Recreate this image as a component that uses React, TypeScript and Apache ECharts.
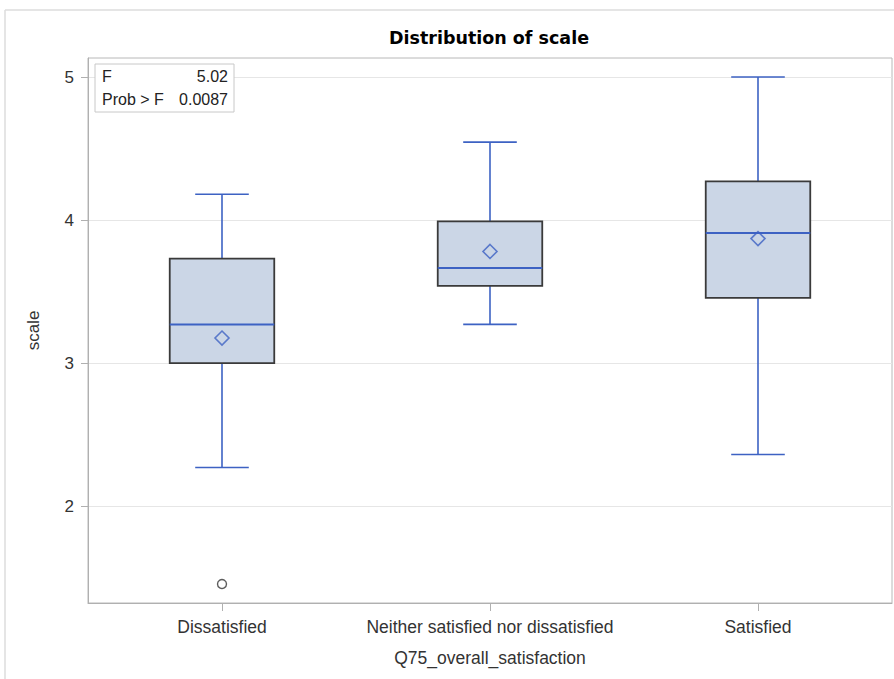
import React, { useEffect, useRef } from "react";
import * as echarts from "echarts";

const categories = ["Dissatisfied", "Neither satisfied nor dissatisfied", "Satisfied"];
// [whiskerLow, Q1, median, Q3, whiskerHigh]
const boxValues = [
  [2.27, 3.0, 3.27, 3.73, 4.18],
  [3.27, 3.54, 3.665, 3.99, 4.545],
  [2.36, 3.455, 3.91, 4.27, 5.0],
];
const meanValues = [3.175, 3.78, 3.87];
const outliers = [[0, 1.455]];
const yTicks = [2, 3, 4, 5];
const fStat = "5.02";
const probF = "0.0087";

const BLUE = "#3d62c3";
const FILL = "#cbd6e6";
const FONT = "'Liberation Sans', Arial, sans-serif";

export default function App() {
  const ref = useRef<HTMLDivElement>(null);
  useEffect(() => {
    const chart = echarts.init(ref.current!, null, { renderer: "svg" });
    const option: any = {
      animation: false,
      backgroundColor: "#fff",
      title: {
        text: "Distribution of scale",
        left: 484,
        top: 24,
        textAlign: "center",
        textStyle: { fontFamily: "'DejaVu Sans', sans-serif", fontWeight: "bold", fontSize: 17.5, color: "#000" },
      },
      grid: {
        left: 88, right: 2, top: 58, bottom: 76,
        show: true, borderColor: "#b8b8b8", borderWidth: 1, backgroundColor: "transparent",
      },
      xAxis: {
        type: "category",
        data: categories,
        boundaryGap: true,
        name: "Q75_overall_satisfaction",
        nameLocation: "middle",
        nameGap: 46,
        nameTextStyle: { fontFamily: FONT, fontSize: 17.5, color: "#333" },
        axisLine: { show: true, lineStyle: { color: "#b0b0b0" } },
        axisTick: { show: true, alignWithLabel: true, length: 8, lineStyle: { color: "#b0b0b0" } },
        axisLabel: { fontFamily: FONT, fontSize: 17.5, color: "#333", margin: 15, interval: 0, hideOverlap: false },
        splitLine: { show: false },
      },
      yAxis: {
        type: "value",
        min: 1.322,
        max: 5.133,
        name: "scale",
        nameLocation: "middle",
        nameGap: 46,
        nameTextStyle: { fontFamily: FONT, fontSize: 17, color: "#333" },
        axisLine: { show: true, lineStyle: { color: "#b0b0b0" } },
        axisTick: { show: true, length: 7, customValues: yTicks, lineStyle: { color: "#b0b0b0" } },
        axisLabel: { fontFamily: FONT, fontSize: 17, color: "#333", margin: 14, customValues: yTicks },
        splitLine: { show: false },
      },
      series: [
        {
          type: "custom",
          data: boxValues.map((v, i) => [i, ...v]),
          encode: { x: 0, y: [1, 2, 3, 4, 5] },
          markLine: {
            silent: true,
            symbol: "none",
            label: { show: false },
            lineStyle: { color: "#e6e6e6", type: "solid", width: 1 },
            data: yTicks.map((t) => ({ yAxis: t })),
            z: 0,
          },
          renderItem: (params: any, api: any) => {
            const idx = api.value(0);
            const lo = api.coord([idx, api.value(1)]);
            const q1 = api.coord([idx, api.value(2)]);
            const med = api.coord([idx, api.value(3)]);
            const q3 = api.coord([idx, api.value(4)]);
            const hi = api.coord([idx, api.value(5)]);
            const band = api.size([1, 0])[0];
            const bw = band * 0.39;
            const cw = band * 0.2;
            const x = lo[0];
            const ls = { stroke: BLUE, lineWidth: 1.6 };
            return {
              type: "group",
              children: [
                { type: "line", shape: { x1: x, y1: q3[1], x2: x, y2: hi[1] }, style: ls },
                { type: "line", shape: { x1: x - cw / 2, y1: hi[1], x2: x + cw / 2, y2: hi[1] }, style: ls },
                { type: "line", shape: { x1: x, y1: q1[1], x2: x, y2: lo[1] }, style: ls },
                { type: "line", shape: { x1: x - cw / 2, y1: lo[1], x2: x + cw / 2, y2: lo[1] }, style: ls },
                {
                  type: "rect",
                  shape: { x: x - bw / 2, y: q3[1], width: bw, height: q1[1] - q3[1] },
                  style: { fill: FILL, stroke: "#3a3a3a", lineWidth: 1.8 },
                },
                { type: "line", shape: { x1: x - bw / 2, y1: med[1], x2: x + bw / 2, y2: med[1] }, style: { stroke: BLUE, lineWidth: 2 } },
              ],
            };
          },
          z: 2,
        },
        {
          type: "scatter",
          data: meanValues.map((m, i) => [i, m]),
          symbol: "diamond",
          symbolSize: [14, 14],
          itemStyle: { color: "transparent", borderColor: BLUE, borderWidth: 1.6 },
          z: 3,
        },
        {
          type: "scatter",
          data: outliers,
          symbol: "circle",
          symbolSize: 9,
          itemStyle: { color: "#fff", borderColor: "#333", borderWidth: 1.4 },
          z: 3,
        },
      ],
      graphic: [
        { type: "line", shape: { x1: 5, y1: 10, x2: 894, y2: 10 }, style: { stroke: "#dcdcdc", lineWidth: 1.5 } },
        { type: "line", shape: { x1: 5, y1: 10, x2: 5, y2: 679 }, style: { stroke: "#dcdcdc", lineWidth: 1.5 } },
        {
          type: "rect",
          shape: { x: 95, y: 64, width: 139, height: 48 },
          style: { fill: "#fff", stroke: "#c8c8c8", lineWidth: 1 },
          z: 10,
        },
        { type: "text", x: 102, y: 76, z: 11, style: { text: "F", fontFamily: FONT, fontSize: 16, fill: "#222", verticalAlign: "middle" } },
        { type: "text", x: 228, y: 76, z: 11, style: { text: fStat, fontFamily: FONT, fontSize: 16, fill: "#222", align: "right", verticalAlign: "middle" } },
        { type: "text", x: 102, y: 99, z: 11, style: { text: "Prob > F", fontFamily: FONT, fontSize: 16, fill: "#222", verticalAlign: "middle" } },
        { type: "text", x: 228, y: 99, z: 11, style: { text: probF, fontFamily: FONT, fontSize: 16, fill: "#222", align: "right", verticalAlign: "middle" } },
      ],
    };
    chart.setOption(option);
    return () => chart.dispose();
  }, []);
  return (
    <div
      ref={ref}
      style={{ position: "fixed", left: 0, top: 0, width: 894, height: 679, background: "#fff" }}
    />
  );
}
